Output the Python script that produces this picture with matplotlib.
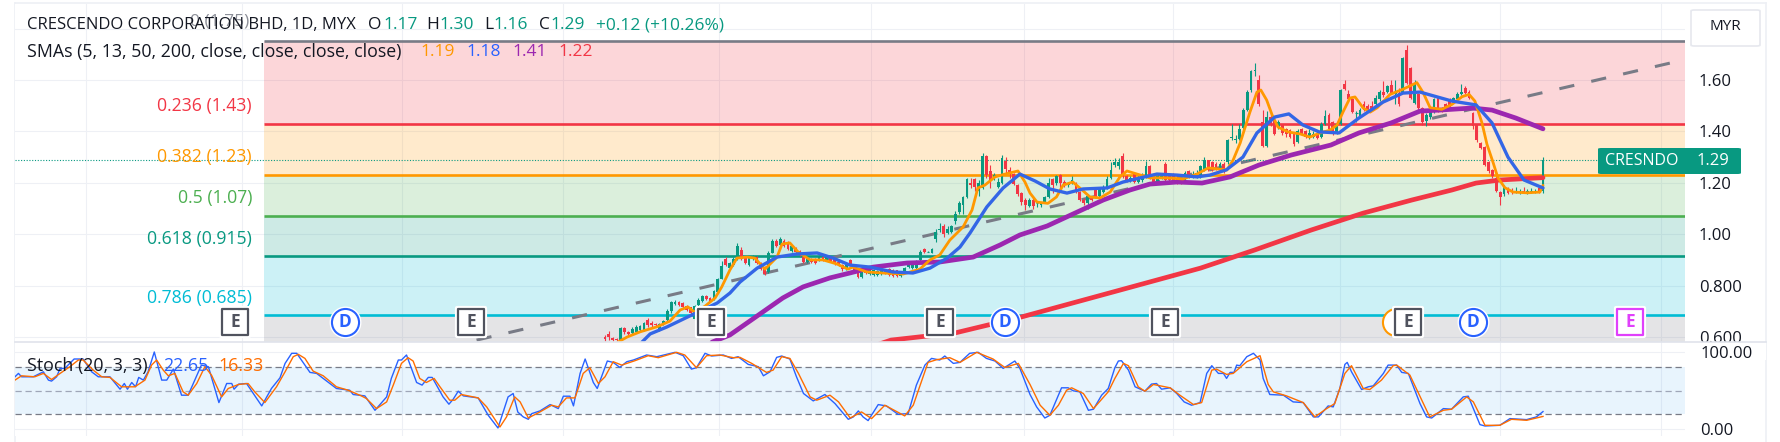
import numpy as np
import matplotlib
matplotlib.use("Agg")
import matplotlib.pyplot as plt
from matplotlib.markers import MarkerStyle
from matplotlib.patches import FancyBboxPatch, Rectangle

plt.rcParams["font.family"] = ["Open Sans", "DejaVu Sans"]

# candles, oldest first
opens = [
    .600, .612, .597, .592, .586, .636, .618, .614, .620, .628,
    .628, .665, .656, .650, .628, .652, .668, .700, .730, .738,
    .732, .722, .715, .670, .724, .739, .760, .750, .749, .775,
    .827, .902, .870, .880, .905, .940, .911, .880, .905, .910,
    .885, .868, .853, .928, .975, .958, .975, .968, .936, .944,
    .933, .911, .892, .902, .902, .898, .911, .898, .907, .902,
    .892, .881, .863, .899, .881, .864, .833, .866, .846, .842,
    .840, .844, .855, .866, .859, .859, .836, .855, .872, .868,
    .868, .898, .941, .931, .928, .98, 1.015, 1.03, 1.005, 1.01,
    1.05, 1.085, 1.115, 1.145, 1.20, 1.215, 1.17, 1.18, 1.305, 1.245,
    1.22, 1.185, 1.20, 1.285, 1.25, 1.235, 1.19, 1.16, 1.135, 1.11,
    1.135, 1.12, 1.115, 1.125, 1.145, 1.215, 1.20, 1.23, 1.205, 1.19,
    1.20, 1.20, 1.165, 1.135, 1.12, 1.14, 1.18, 1.15, 1.165, 1.18,
    1.22, 1.27, 1.265, 1.305, 1.225, 1.21, 1.235, 1.205, 1.21, 1.225,
    1.265, 1.22, 1.20, 1.22, 1.275, 1.235, 1.235, 1.22, 1.215, 1.21,
    1.245, 1.225, 1.225, 1.225, 1.25, 1.287, 1.28, 1.275, 1.25, 1.275,
    1.28, 1.375, 1.365, 1.37, 1.415, 1.485, 1.56, 1.635, 1.60, 1.435,
    1.345, 1.455, 1.445, 1.415, 1.425, 1.41, 1.405, 1.39, 1.36, 1.41,
    1.40, 1.375, 1.38, 1.395, 1.38, 1.43, 1.465, 1.435, 1.395, 1.43,
    1.585, 1.545, 1.525, 1.47, 1.46, 1.505, 1.50, 1.50, 1.505, 1.525,
    1.555, 1.555, 1.58, 1.545, 1.55, 1.555, 1.715, 1.645, 1.51, 1.545,
    1.49, 1.44, 1.455, 1.475, 1.53, 1.49, 1.505, 1.525, 1.52, 1.525,
    1.545, 1.57, 1.555, 1.47, 1.425, 1.355, 1.34, 1.28, 1.25, 1.22,
    1.165, 1.155, 1.18, 1.17, 1.165, 1.165, 1.17, 1.165, 1.165, 1.165,
    1.18, 1.17,
]
closes = [
    .592, .600, .590, .588, .636, .618, .612, .630, .640, .642,
    .656, .645, .645, .645, .652, .662, .702, .735, .735, .724,
    .716, .705, .695, .720, .745, .760, .748, .740, .778, .825,
    .876, .880, .888, .905, .953, .905, .888, .912, .912, .889,
    .866, .846, .928, .975, .956, .980, .956, .944, .953, .931,
    .920, .892, .905, .892, .889, .915, .898, .911, .894, .887,
    .879, .863, .881, .882, .859, .833, .864, .848, .866, .859,
    .855, .857, .851, .840, .837, .836, .853, .868, .885, .889,
    .894, .931, .931, .931, .941, 1.01, 1.02, 1.00, 1.02, 1.03,
    1.08, 1.12, 1.145, 1.215, 1.19, 1.185, 1.20, 1.305, 1.23, 1.21,
    1.23, 1.205, 1.295, 1.255, 1.24, 1.195, 1.155, 1.125, 1.115, 1.135,
    1.11, 1.12, 1.12, 1.145, 1.20, 1.19, 1.225, 1.20, 1.19, 1.20,
    1.21, 1.165, 1.135, 1.12, 1.15, 1.135, 1.145, 1.175, 1.185, 1.215,
    1.25, 1.28, 1.28, 1.225, 1.21, 1.22, 1.205, 1.22, 1.23, 1.265,
    1.22, 1.20, 1.225, 1.225, 1.21, 1.21, 1.205, 1.205, 1.20, 1.24,
    1.225, 1.235, 1.24, 1.265, 1.29, 1.25, 1.25, 1.26, 1.275, 1.25,
    1.365, 1.38, 1.37, 1.41, 1.485, 1.555, 1.635, 1.64, 1.505, 1.345,
    1.455, 1.43, 1.39, 1.435, 1.395, 1.39, 1.38, 1.35, 1.40, 1.39,
    1.38, 1.395, 1.39, 1.375, 1.43, 1.46, 1.41, 1.39, 1.43, 1.56,
    1.565, 1.525, 1.475, 1.47, 1.485, 1.485, 1.485, 1.485, 1.53, 1.555, 1.54,
    1.575, 1.55, 1.555, 1.505, 1.685, 1.59, 1.53, 1.59, 1.49, 1.435,
    1.465, 1.49, 1.525, 1.48, 1.48, 1.49, 1.50, 1.53, 1.545, 1.555,
    1.55, 1.53, 1.42, 1.365, 1.335, 1.27, 1.245, 1.225, 1.17, 1.145,
    1.185, 1.16, 1.165, 1.17, 1.17, 1.165, 1.17, 1.17, 1.17, 1.165, 1.29,
]
highs = [
    .607, .625, .600, .596, .640, .640, .622, .640, .648, .646,
    .660, .672, .662, .655, .656, .666, .708, .740, .745, .742,
    .736, .726, .718, .725, .750, .764, .765, .755, .782, .830,
    .895, .912, .892, .910, .965, .950, .915, .916, .918, .915,
    .892, .875, .935, .982, .982, .988, .980, .972, .958, .950,
    .938, .916, .910, .906, .906, .920, .916, .916, .912, .906,
    .896, .885, .885, .902, .885, .868, .868, .870, .872, .864,
    .860, .861, .860, .870, .863, .862, .858, .872, .889, .892,
    .898, .938, .948, .933, .946, 1.02, 1.045, 1.04, 1.03, 1.035,
    1.09, 1.13, 1.15, 1.22, 1.22, 1.22, 1.21, 1.315, 1.31, 1.27,
    1.24, 1.22, 1.31, 1.30, 1.26, 1.24, 1.195, 1.165, 1.14, 1.14,
    1.14, 1.125, 1.125, 1.15, 1.22, 1.22, 1.23, 1.235, 1.21, 1.205,
    1.225, 1.205, 1.17, 1.14, 1.155, 1.15, 1.185, 1.18, 1.19, 1.225,
    1.28, 1.295, 1.295, 1.315, 1.23, 1.225, 1.24, 1.225, 1.24, 1.285,
    1.27, 1.225, 1.23, 1.23, 1.28, 1.24, 1.24, 1.225, 1.22, 1.245,
    1.25, 1.245, 1.25, 1.27, 1.30, 1.29, 1.285, 1.28, 1.28, 1.28,
    1.37, 1.43, 1.385, 1.43, 1.49, 1.56, 1.64, 1.665, 1.62, 1.485,
    1.48, 1.475, 1.45, 1.445, 1.43, 1.415, 1.41, 1.395, 1.41, 1.415,
    1.405, 1.41, 1.40, 1.40, 1.435, 1.485, 1.47, 1.44, 1.435, 1.565,
    1.60, 1.56, 1.53, 1.48, 1.49, 1.52, 1.505, 1.52, 1.54, 1.56, 1.595,
    1.58, 1.60, 1.60, 1.57, 1.69, 1.735, 1.65, 1.60, 1.55, 1.495,
    1.47, 1.495, 1.53, 1.535, 1.495, 1.51, 1.53, 1.535, 1.555, 1.585,
    1.575, 1.56, 1.475, 1.43, 1.36, 1.345, 1.285, 1.255, 1.225, 1.17,
    1.19, 1.185, 1.18, 1.185, 1.175, 1.185, 1.175, 1.18, 1.175, 1.19, 1.30,
]
lows = [
    .586, .590, .586, .586, .586, .610, .608, .610, .616, .622,
    .625, .640, .640, .640, .625, .645, .662, .695, .725, .720,
    .712, .700, .690, .665, .718, .735, .745, .735, .745, .770,
    .825, .875, .866, .875, .900, .900, .884, .878, .900, .885,
    .860, .842, .848, .925, .952, .952, .950, .940, .930, .926,
    .916, .888, .888, .888, .885, .894, .894, .894, .890, .882,
    .875, .858, .860, .878, .855, .830, .830, .844, .842, .838,
    .836, .840, .846, .836, .833, .832, .832, .850, .868, .865,
    .865, .894, .925, .929, .925, .97, 1.01, .99, 1.0, 1.005,
    1.04, 1.08, 1.08, 1.14, 1.18, 1.17, 1.15, 1.175, 1.22, 1.18,
    1.21, 1.18, 1.195, 1.24, 1.22, 1.19, 1.15, 1.115, 1.095, 1.105,
    1.10, 1.105, 1.105, 1.12, 1.14, 1.16, 1.19, 1.18, 1.185, 1.185,
    1.195, 1.16, 1.13, 1.115, 1.10, 1.13, 1.14, 1.145, 1.16, 1.175,
    1.215, 1.26, 1.255, 1.22, 1.205, 1.205, 1.20, 1.20, 1.205, 1.22,
    1.215, 1.195, 1.195, 1.215, 1.205, 1.205, 1.20, 1.195, 1.195, 1.205,
    1.22, 1.22, 1.22, 1.22, 1.245, 1.245, 1.245, 1.25, 1.245, 1.24,
    1.275, 1.365, 1.355, 1.365, 1.41, 1.48, 1.555, 1.615, 1.50, 1.34,
    1.34, 1.42, 1.385, 1.41, 1.385, 1.38, 1.375, 1.345, 1.355, 1.385,
    1.375, 1.37, 1.375, 1.37, 1.375, 1.425, 1.40, 1.385, 1.39, 1.425,
    1.56, 1.52, 1.47, 1.435, 1.455, 1.48, 1.48, 1.48, 1.50, 1.52, 1.535,
    1.55, 1.545, 1.505, 1.50, 1.55, 1.585, 1.525, 1.505, 1.485, 1.425,
    1.42, 1.45, 1.47, 1.475, 1.475, 1.485, 1.495, 1.515, 1.52, 1.54,
    1.545, 1.525, 1.41, 1.36, 1.33, 1.265, 1.24, 1.22, 1.165, 1.115,
    1.15, 1.155, 1.155, 1.16, 1.155, 1.16, 1.155, 1.16, 1.16, 1.16, 1.16,
]

sma5_bar = [3.3, 5.7, 9, 13.4, 16.7, 19.3, 21.3, 23, 25.7, 28.3, 30, 32.1, 33.9, 36.5, 38.5, 41.1, 44.2, 45.5,
            47.5, 49.6, 52.7, 56, 59.6, 62.4, 63.7, 67.3, 71.4, 76.6, 80.9, 83.5, 86, 88.6, 92, 94.3, 95.8, 97.6,
            100.2, 102.8, 106.1, 107.9, 109.2, 111, 113.8, 116, 117.7, 120.2, 122.6, 124.6, 127.2, 129.8, 132.3,
            134.1, 136.7, 140, 144.4, 148.5, 152.1, 155, 159.8, 161.4, 163.2, 164.4, 165.7, 167.5, 168.5, 170,
            171.4, 172.9, 175.5, 178.6, 181.1, 183.7, 186.3, 188.1, 189.6, 191.4, 192.7, 194.8, 196.6, 198.4,
            201.7, 205, 208.6, 210.2, 212, 215, 217.6, 220.2, 222, 223.5, 225.3, 226.6, 228.2, 229.4, 231.2,
            233.3, 236.9, 240.2, 241]
sma5 = [.58, .60, .62, .64, .662, .705, .717, .697, .72, .752, .795, .861, .907, .911, .907, .864, .911, .962,
        .966, .931, .90, .90, .884, .864, .872, .853, .849, .845, .864, .90, .919, .977, 1.028, 1.094, 1.18, 1.191,
        1.223, 1.234, 1.246, 1.203, 1.16, 1.125, 1.12, 1.145, 1.191, 1.203, 1.172, 1.145, 1.141, 1.164, 1.223,
        1.246, 1.234, 1.219, 1.219, 1.215, 1.234, 1.258, 1.25, 1.289, 1.355, 1.413, 1.475, 1.553, 1.561, 1.522,
        1.464, 1.417, 1.398, 1.39, 1.378, 1.394, 1.405, 1.425, 1.475, 1.53, 1.534, 1.491, 1.475, 1.492,
        1.544, 1.564, 1.59, 1.551, 1.492, 1.486, 1.505, 1.535, 1.544, 1.518, 1.434, 1.35, 1.278, 1.22, 1.181,
        1.164, 1.161, 1.164, 1.19]

sma13_bar = [9.5, 11.6, 15.9, 21.8, 28.8, 32.1, 34.7, 39.1, 44.2, 49.3, 54.5, 58.6, 62.9, 68.1, 74, 79.1, 83.5,
             87.9, 91.2, 93.8, 98.1, 102.3, 106.6, 110.5, 114.3, 118.7, 122.8, 129, 133.1, 137.5, 141.8, 147,
             152.1, 155.4, 159.6, 163.9, 167.5, 172.1, 175.7, 179.3, 183.5, 188.6, 193.7, 199.9, 205, 209.4,
             217.6, 223.8, 227.9, 232, 236.1, 241]
sma13 = [.58, .612, .639, .682, .732, .771, .814, .868, .911, .923, .927, .907, .880, .872, .853, .849, .868,
         .907, .950, 1.005, 1.106, 1.18, 1.234, 1.207, 1.176, 1.16, 1.176, 1.18, 1.203, 1.219, 1.234, 1.23,
         1.223, 1.23, 1.25, 1.30, 1.394, 1.456, 1.468, 1.425, 1.398, 1.394, 1.452, 1.514, 1.549, 1.553,
         1.518, 1.503, 1.433, 1.30, 1.211, 1.18]

sma50_bar = [27.5, 32.1, 39.1, 45.7, 50.9, 57.8, 62.9, 68.9, 77.6, 86.1, 94.6, 101.5, 106.6, 113.6, 121.3, 128,
             134.9, 140, 147, 153.4, 160.6, 168, 176.3, 186.5, 193.7, 202, 209.4, 214.5, 222.8, 227.9, 234, 241]
sma50 = [.58, .608, .682, .752, .795, .83, .849, .872, .888, .892, .911, .958, .997, 1.032, 1.086, 1.133,
         1.172, 1.195, 1.203, 1.199, 1.223, 1.269, 1.308, 1.347, 1.394, 1.433, 1.479, 1.483, 1.491, 1.483, 1.452, 1.41]

sma200_bar = [68, 73.5, 90, 107, 130.5, 153, 167, 181.4, 194.8, 207.3, 217.6, 223.8, 230, 241]
sma200 = [.56, .588, .616, .678, .775, .868, .939, 1.016, 1.082, 1.133, 1.172, 1.199, 1.211, 1.22]

stoch_k_bar = [-151.6, -150.7, -149.9, -146.9, -144.3, -143, -142.2, -140.9, -140, -138.8, -136.4, -134.1, -131.9,
               -130.2, -127.2, -124.6, -123.5, -122.7, -121.6, -120.6, -119.8, -118.6, -117.4, -115.8, -113.9, -112.6,
               -110.9, -108.8, -107.1, -103.7, -101.9, -99.2, -97.2, -95.9, -95.3, -94.1, -92.1, -88.2, -85.7, -83.5,
               -82.2, -80.5, -79.2, -75.8, -74.1, -69, -65.6, -64.7, -61.7, -59.1, -56.1, -54.9, -53.1, -52.3, -51,
               -48.4, -47, -45.4, -44.4, -41.6, -40.1, -39, -37.7, -36.4, -32.6, -30, -27.5, -24.9, -23.6, -22.4, -21,
               -19.7, -18.8, -16.7, -14.1, -12, -10.7, -9, -8.1, -6.4, -5.1, -3, -2, 0.6, 2.1, 3.8, 5.6, 7.3, 10.7,
               13.3, 18, 20.1, 22.2, 23.5, 25.7, 27.4, 30.4, 32.5, 34.2, 36.8, 39.4, 40.7, 42.4, 44.1, 45.4, 47.5,
               49.2, 51, 53.5, 56.5, 59.1, 62.5, 63.8, 65.1, 66.3, 67.6, 70.2, 72.3, 75.3, 77.9, 80, 82.2, 83.9, 86,
               87.3, 89.5, 91.2, 93.7, 95.9, 98, 100.2, 102.3, 105.3, 106.6, 109.2, 110.9, 113, 114.3, 117.3, 119,
               120.3, 122, 124.2, 125.5, 127.6, 129.3, 131, 131.9, 132.7, 134.5, 136.2, 138.7, 140.4, 141.7, 143,
               145.2, 146.9, 148.8, 150.7, 152.9, 154.6, 155.9, 157.6, 158.9, 159.7, 160.6, 161.6, 162.3, 163.1,
               164.9, 166.6, 168.3, 169.1, 170.8, 174.3, 176.8, 179.4, 182, 183.3, 185.8, 187.1, 188.8, 190.1, 190.7,
               191.8, 194.4, 196.1, 197.4, 200, 201.2, 203.4, 204.7, 206.4, 209.4, 211.1, 212.4, 215.4, 217.5, 220.5,
               221.8, 224.8, 226.1, 229.9, 232.5, 236.8, 239.3, 241]
stoch_k = [67.8, 72.2, 67.8, 67.8, 74.3, 63.5, 62.2, 67.8, 78.7, 78.7, 90.9, 90.9, 74.3,
           67.8, 67.8, 51.7, 59.1, 51.7, 60.4, 54.8, 67, 63.5, 74.3, 100, 63.5, 63.5,
           77.8, 43.9, 43.9, 83, 80.9, 34.3, 59.1, 59.1, 51.7, 58.3, 59.1, 30, 52.6, 66.5,
           85.2, 98.3, 98.3, 73.5, 72.2, 52.6, 50.4, 44.8, 43, 24.3, 41.7, 65.7, 89.6, 89.6, 96.1,
           60.4, 57, 67, 67, 41.7, 32.2, 38.7, 49.1, 43, 40.4, 17.8, 1.3, 41.7, 46.1, 22, 15.7,
           12.6, 20, 23.5, 31.7, 26.5, 42.6, 42.6, 30, 72.2, 90.9, 60.4, 52.6, 88.3, 86.5, 80, 87.4, 89.6, 96.1,
           93.9, 99.6, 95.2, 77.8, 79.6, 98.3, 94.8, 96.1, 91.7, 93.9, 83.9, 80.9, 69.1, 74.3, 93, 94.8, 90.9,
           67.8, 46.1, 36.5, 44.8, 33, 12.6, 15.7, 23.5, 15.7, 10.9, 31.7, 30, 19.1, 20, 57, 83, 91.7, 89.6,
           94.8, 85.2, 86.5, 98.3, 99.6, 91.7, 88.3, 78.7, 88.3, 78.7, 44.8, 28.7, 14.3, 17.8, 53.5, 53.5,
           49.6, 48.3, 24.3, 25.7, 43.9, 52.6, 79.6, 88.3, 88.7, 76.5, 54.8, 49.1, 58.3, 59.1, 51.7,
           53.5, 46.1, 35.2, 30.9, 34.3, 72.2, 82.2, 72.2, 72.2, 65.7, 73.5, 73.5, 83, 82.2,
           93.9, 98.3, 89.6, 65.7, 44.8, 43.9, 35.2, 34.3, 15.7, 15.7, 30, 28.7, 52.6, 83.9, 86.5,
           74.3, 51.3, 54.8, 56.1, 72.2, 83, 83, 73.5, 72.2, 33, 15.7, 14.3, 26.5, 25.7, 41.7,
           42.6, 5.7, 3.9, 4.8, 13.5, 12.2, 15.7, 22.65]

stoch_d_bar = [-151.6, -149.9, -146.5, -144.3, -142.2, -140, -137.5, -135.3, -134.1, -131.5, -129.3, -127.2, -124.2,
               -122, -120.8, -118.2, -116.5, -115.2, -113.5, -112.2, -110.5, -108.4, -107.1, -104.9, -102.8, -101.1,
               -98.5, -96.8, -94.2, -91.7, -90, -87.4, -84.4, -82.2, -80.1, -78.8, -77.1, -75, -72.4, -69, -66, -62.6,
               -61.3, -58.7, -56.1, -54.4, -52.3, -50.6, -49.3, -47.6, -45.9, -43.9, -42.4, -39.9, -38.6, -36.9, -32.6,
               -30.4, -27, -25.3, -23.2, -21.8, -19.7, -16.7, -13.7, -12, -9.9, -7.7, -5.6, -3.9, -1.7, 0, 2.1, 4.3,
               7.7, 11.1, 13.7, 18.4, 20.5, 23.5, 26.1, 29.5, 33, 34.7, 37.7, 41.5, 43.2, 45.4, 47.5, 49.7, 52.7, 54.4,
               57.8, 60, 63, 65.9, 68.5, 71.9, 77, 79.2, 83, 85.2, 88.6, 91.2, 95.5, 99.7, 102.7, 106.2, 109.2, 111.8,
               114.3, 116.5, 118.6, 119.9, 122.9, 125.5, 129.3, 131, 133.2, 134.5, 137, 138.7, 140.9, 145.2, 147.7,
               151.2, 153.3, 155.9, 157.1, 159.7, 161.4, 164.9, 168.3, 170.4, 171.7, 175.1, 179.4, 182.4, 185.4, 187.5,
               190.1, 191.8, 194.8, 196.5, 199.5, 202.5, 203.4, 206.8, 211.9, 215.4, 217.5, 221.4, 223.1, 226.1, 229.9,
               232.9, 236.8, 241]
stoch_d = [63.5, 69.1, 67.8, 72.2, 64.3, 72.2, 80.9, 89.6, 89.6, 76.5, 67.8, 67, 54.8,
           54.8, 54.8, 63.5, 83, 89.6, 76.5, 69.1, 72.2, 48.3, 43.9, 59.1, 80.9, 70,
           41.7, 52.6, 57.8, 59.1, 48.3, 34.3, 54.8, 74.3, 93.9, 97, 91.7, 75.2, 69.1, 54.8, 50.4, 43,
           39.6, 26.5, 35.2, 57, 85.2, 92.6, 88.3, 65.7, 60.4, 65.7, 54.8, 37.4, 37.4, 44.8, 40.4,
           28.7, 2.6, 15.7, 41.7, 35.2, 14.3, 22.2, 30.9, 28.7, 40.4, 40.4, 72.2, 79.6, 59.1, 67.8, 87.4, 83,
           88.7, 95.2, 92.6, 99.6, 96.1, 79.6, 95.2, 96.1, 92.6, 93, 85.2, 73.5, 76.5, 93.9, 91.7, 72.2, 41.7, 37.4,
           43.9, 35.2, 14.3, 22.2, 13.5, 30.9, 17, 30.9, 86.5, 90, 92.6, 86.5, 99.6, 90.9, 80, 85.2, 57.8, 30.9,
           17.8, 30.9, 50.4, 53.5, 46.1, 26.5, 48.3, 65.7, 85.2, 82.2, 54.8, 49.1, 57.8, 53.5, 43.9,
           31.7, 34.3, 76.5, 77.8, 70.9, 72.2, 87.4, 95.2, 57.8, 48.3, 43, 34.3, 15.7, 26.5, 33,
           72.2, 82.2, 52.6, 51.3, 63.5, 82.2, 83, 70, 15.7, 24.3, 25.7, 41.7, 35.2, 4.8, 4.8,
           12.6, 11.3, 16.33]

fib_ratios = ["0", "0.236", "0.382", "0.5", "0.618", "0.786"]
fib_texts = ["1.75", "1.43", "1.23", "1.07", "0.915", "0.685"]
fib_prices = [1.75, 1.43, 1.23, 1.07, .915, .685, .39]
fib_colors = ["#787b86", "#f23645", "#ff9800", "#4caf50", "#089981", "#00bcd4"]
band_colors = ["#f23645", "#ff9800", "#4caf50", "#089981", "#00bcd4", "#787b86"]

price_ticks = [.6, .8, 1.0, 1.2, 1.4, 1.6, 1.8]
price_labels = ["0.600", "0.800", "1.00", "1.20", "1.40", "1.60", ""]
grid_bars = [-133.4, -93.3, -52.2, -10.8, 29.3, 68.3, 107.6, 145.9, 188.8, 229.9, 271.3]

event_letters = ["E", "D", "E", "E", "E", "D", "E", "E", "D", "E"]
event_bars = [-95, -66.8, -34.4, 27.2, 86.1, 102.8, 143.9, 206.3, 223, 263.4]
event_colors = ["#50535e", "#2962ff", "#50535e", "#50535e", "#50535e", "#2962ff", "#50535e", "#50535e", "#2962ff", "#e040fb"]

trend_bars = [-33, 275.4]
trend_prices = [.588, 1.672]

UP = "#089981"
DOWN = "#f23645"
DARK = "#131722"
W, H = 1781, 442
LEFT, RIGHT = 15, 1685
BAR0, BARN = 605, 1543


def rect_px(x0, y0, x1, y1):
    return [x0 / W, 1 - y1 / H, (x1 - x0) / W, (y1 - y0) / H]


def label(x, y, s, color=DARK, size=12.5, ha="left", **kw):
    fig.text(x / W, 1 - y / H, s, color=color, fontsize=size, ha=ha, va="center", **kw)


n = len(closes)
step = (BARN - BAR0) / (n - 1)
xlim = ((LEFT - BAR0) / step, (RIGHT - BAR0) / step)
bars = np.arange(n)

fig = plt.figure(figsize=(W / 100, H / 100), dpi=100)
ax = fig.add_axes(rect_px(LEFT, 4, RIGHT, 342), zorder=1)
ax2 = fig.add_axes(rect_px(LEFT, 342, RIGHT, 436), zorder=2)

# price pane
ax.set_xlim(*xlim)
ax.set_ylim(1.6 - (342 - 80) / 257, 1.6 + (80 - 4) / 257)
ax.set_xticks(grid_bars)
ax.set_xticklabels([])
ax.set_yticks(price_ticks)
ax.set_yticklabels(price_labels)
ax.yaxis.tick_right()
ax.tick_params(length=0, labelsize=12, labelcolor=DARK, pad=10)
ax.grid(True, color="#eef0f5", lw=0.8)
ax.set_axisbelow(True)
for s in ax.spines.values():
    s.set_visible(False)

fib_start = (264 - BAR0) / step
for k in range(6):
    ax.fill_between([fib_start, xlim[1]], fib_prices[k + 1], fib_prices[k], color=band_colors[k], alpha=0.2, lw=0, zorder=1)
    ax.plot([fib_start, xlim[1]], [fib_prices[k]] * 2, color=fib_colors[k], lw=1.9, zorder=2, solid_capstyle="butt")

ax.plot(trend_bars, trend_prices, color="#787b86", lw=2.2, dashes=(5, 5.7), dash_capstyle="butt", zorder=2.5)
ax.axhline(closes[-1], color=UP, lw=0.8, ls=(0, (1, 1.5)), zorder=2.5)

colors = [UP if c >= o else DOWN for o, c in zip(opens, closes)]
ax.vlines(bars, lows, highs, colors=colors, lw=0.8, zorder=3)
ax.bar(bars, np.array(closes) - np.array(opens), bottom=opens, width=0.72, color=colors, lw=0, zorder=3)
# doji still need a visible body
ax.hlines([c for o, c in zip(opens, closes) if o == c], [b - .36 for b, o, c in zip(bars, opens, closes) if o == c],
          [b + .36 for b, o, c in zip(bars, opens, closes) if o == c], color=UP, lw=0.8, zorder=3)

ax.plot(sma200_bar, sma200, color="#f23645", lw=3.4, zorder=4, solid_capstyle="round")
ax.plot(sma50_bar, sma50, color="#9c27b0", lw=3.4, zorder=5, solid_capstyle="round")
ax.plot(sma13_bar, sma13, color="#3366e6", lw=2.4, zorder=6, solid_capstyle="round")
ax.plot(sma5_bar, sma5, color="#ff9800", lw=2.0, zorder=5.5, solid_capstyle="round")

# earnings and dividend badges
badge_y = 1.6 - (322 - 80) / 257
crescent = (1396 - BAR0) / step
ax.plot([crescent], [badge_y], "o", ms=19.5, mfc="white", mec="#ff9800", mew=1.5, zorder=7)
for b, letter, col in zip(event_bars, event_letters, event_colors):
    if letter == "D":
        ax.plot([b], [badge_y], "o", ms=23, mfc="white", mec="white", mew=0, zorder=8)
        ax.plot([b], [badge_y], "o", ms=19.5, mfc="white", mec=col, mew=1.5, zorder=8)
    else:
        ax.plot([b], [badge_y], marker=MarkerStyle("s", joinstyle="round"), ms=20.5, mfc="white", mec="white", mew=3, zorder=8)
        ax.plot([b], [badge_y], marker=MarkerStyle("s", joinstyle="round"), ms=18.5, mfc="white", mec=col, mew=1.6, zorder=8)
    ax.text(b, badge_y, letter, color=col, fontsize=12.5, fontweight="bold", ha="center", va="center", zorder=9)

# oscillator pane
ax2.set_xlim(*xlim)
ax2.set_ylim(100 - (436 - 352) / 0.77, 100 + (352 - 342) / 0.77)
ax2.set_xticks(grid_bars)
ax2.set_xticklabels([])
ax2.set_yticks([0, 100])
ax2.set_yticklabels(["0.00", "100.00"])
ax2.yaxis.tick_right()
ax2.tick_params(length=0, labelsize=12, labelcolor=DARK, pad=11)
ax2.grid(True, color="#eef0f5", lw=0.8)
ax2.set_axisbelow(True)
for s in ax2.spines.values():
    s.set_visible(False)
ax2.axhspan(20, 80, color="#2196f3", alpha=0.1, lw=0, zorder=1)
ax2.axhline(80, color="#787b86", lw=0.9, ls=(0, (5, 3)), zorder=2)
ax2.axhline(50, color="#9fa6b8", lw=0.9, ls=(0, (5, 3)), zorder=2)
ax2.axhline(20, color="#787b86", lw=0.9, ls=(0, (5, 3)), zorder=2)
ax2.plot(stoch_k_bar, stoch_k, color="#2962ff", lw=1.0, zorder=3)
ax2.plot(stoch_d_bar, stoch_d, color="#ff6d00", lw=1.0, zorder=4)
ax2.add_patch(Rectangle((RIGHT / W, 1 - 360 / H), 81 / W, 18 / H, transform=fig.transFigure, color="white", lw=0,
                        clip_on=False, zorder=-1))

# frame around the chart
for x0, y0, x1, y1 in [(LEFT, 3, 1766, 3), (LEFT, 3, LEFT, 442), (1766, 3, 1766, 442)]:
    fig.add_artist(plt.Line2D([x0 / W, x1 / W], [1 - y0 / H, 1 - y1 / H], color="#eef0f5", lw=1.2, zorder=0))
fig.add_artist(plt.Line2D([LEFT / W, 1766 / W], [1 - 342 / H] * 2, color="#e0e3eb", lw=1.2, zorder=3))

# legend text
label(220, 22, "0 (%s)" % fib_texts[0], color="#787b86", ha="center", alpha=0.85)
label(27, 25, "CRESCENDO CORPORATION BHD, 1D, MYX", size=12)
for x, s, col in [(368, "O", DARK), (383, "1.17", UP), (426, "H", DARK), (439, "1.30", UP), (484, "L", DARK), (493, "1.16", UP),
                  (539, "C", DARK), (550, "1.29", UP), (596, "+0.12 (+10.26%)", UP)]:
    label(x, 25, s, color=col)
label(27, 52, "SMAs (5, 13, 50, 200, close, close, close, close)", size=12.8)
for x, s, col in [(420, "1.19", "#ff9800"), (466, "1.18", "#2962ff"), (512, "1.41", "#9c27b0"), (558, "1.22", "#f23645")]:
    label(x, 52, s, color=col)

for y, r, t, col in zip([106, 157, 198, 239, 298], fib_ratios[1:], fib_texts[1:], fib_colors[1:]):
    label(252, y, "%s (%s)" % (r, t), color=col, ha="right", size=12.7)

label(27, 366, "Stoch (20, 3, 3)", size=12.8)
label(163, 366, "22.65", color="#2962ff", size=12.8)
label(218, 366, "16.33", color="#ff6d00", size=12.8)

# price tag and currency button
fig.add_artist(FancyBboxPatch((1598 / W, 1 - 174 / H), 143 / W, 26 / H, boxstyle="round,pad=0,rounding_size=0.002",
                              transform=fig.transFigure, fc=UP, ec=UP, lw=0, zorder=3))
label(1642, 161, "CRESNDO", color="white", ha="center", size=11.5)
label(1713, 161, "1.29", color="white", ha="center", size=12)
fig.add_artist(FancyBboxPatch((1691 / W, 1 - 46 / H), 69 / W, 36 / H, boxstyle="round,pad=0,rounding_size=0.002",
                              transform=fig.transFigure, fc="white", ec="#e6e8ee", lw=1.2, zorder=3))
label(1725, 27, "MYR", ha="center", size=11)

fig.savefig("out.png", dpi=100)
